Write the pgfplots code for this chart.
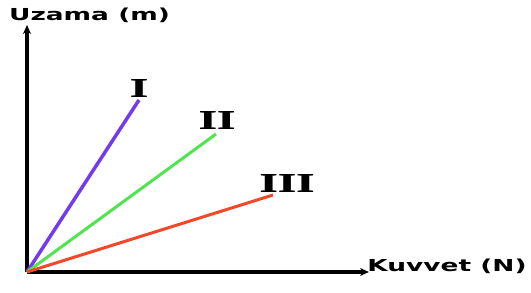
\documentclass[border=0pt]{standalone}
\usepackage{fontspec}
\usepackage{pgfplots}
\pgfplotsset{compat=1.18}
\usetikzlibrary{arrows.meta}
\newfontfamily\lblfont{DejaVu Sans Bold}[FakeStretch=1.6]
\newfontfamily\numfont{Liberation Serif Bold}[FakeStretch=1.75,FakeBold=1]
\definecolor{cI}{RGB}{115,60,235}
\definecolor{cII}{RGB}{80,228,80}
\definecolor{cIII}{RGB}{242,72,40}
\begin{document}
\begin{tikzpicture}
\begin{axis}[
  width=531bp, height=293bp, scale only axis,
  xmin=-27, xmax=504, ymin=-21, ymax=272,
  hide axis, clip=false,
]
\path (rel axis cs:0,0) rectangle (rel axis cs:1,1);
\addplot[black, line width=3.5bp, -{Stealth[length=9bp,width=8bp]}] coordinates {(0,0) (0,247)};
\addplot[black, line width=3.5bp, -{Stealth[length=9bp,width=8bp]}] coordinates {(0,0) (342,0)};
\addplot[cI, line width=3.5bp] coordinates {(0,0) (112,172)};
\addplot[cII, line width=3bp] coordinates {(0,0) (189,138)};
\addplot[cIII, line width=3bp] coordinates {(0,0) (246,77)};
\node[inner sep=0pt] at (axis cs:62.5,257) {\lblfont\fontsize{16.5bp}{18bp}\selectfont Uzama (m)};
\node[inner sep=0pt] at (axis cs:420,6) {\lblfont\fontsize{16.5bp}{18bp}\selectfont Kuvvet (N)};
\node[inner sep=0pt] at (axis cs:112,184) {\numfont\fontsize{27bp}{29bp}\selectfont I};
\node[inner sep=0pt] at (axis cs:190,152) {\numfont\fontsize{27bp}{29bp}\selectfont II};
\node[inner sep=0pt] at (axis cs:260,89) {\numfont\fontsize{27bp}{29bp}\selectfont III};
\end{axis}
\end{tikzpicture}
\end{document}
